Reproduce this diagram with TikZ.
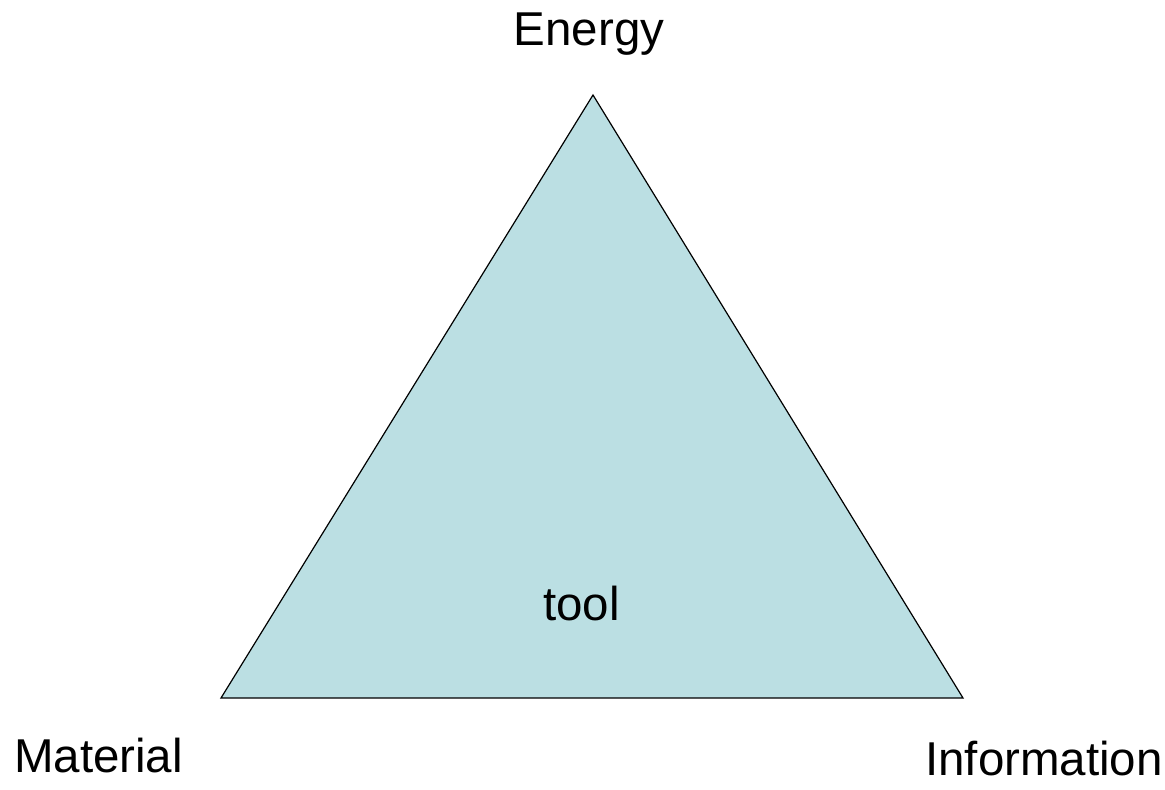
\documentclass[tikz,border=0pt]{standalone}
\usepackage{fontspec}
\setmainfont{Liberation Sans}
\definecolor{trifill}{HTML}{BBDFE3}
\begin{document}
\begin{tikzpicture}[x=1pt,y=-1pt,
  lbl/.style={anchor=base,inner sep=0pt,font=\fontsize{47.5}{57}\selectfont}]
\useasboundingbox (0,0) rectangle (1165,790);
\coordinate (top) at (593,95);
\coordinate (bl) at (221,698);
\coordinate (br) at (963,698);
\filldraw[fill=trifill,draw=black,line width=1.2pt,line join=miter] (top) -- (bl) -- (br) -- cycle;
\node[lbl] (energy) at (589,45) {Energy};
\node[lbl] (material) at (98.5,772) {Material};
\node[lbl] (information) at (1044,775) {Information};
\node[lbl] (tool) at (581.5,620) {tool};
\end{tikzpicture}
\end{document}
